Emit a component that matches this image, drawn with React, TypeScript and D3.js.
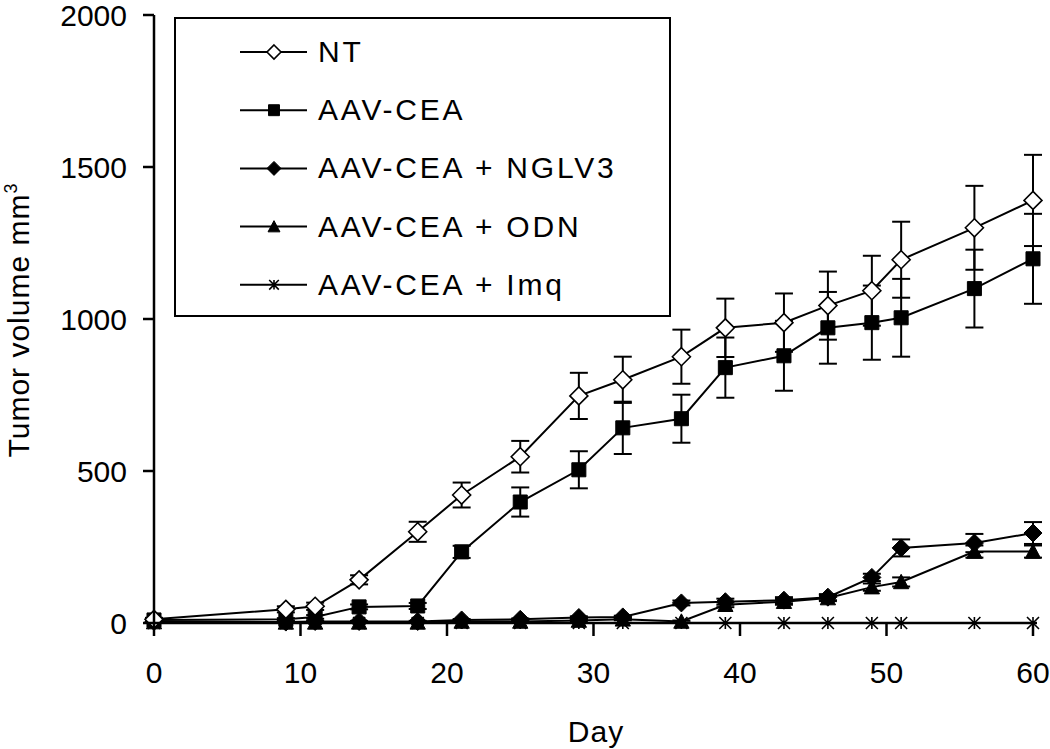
import React from 'react';
import * as d3 from 'd3';

// days shared by every group
const days = [0, 9, 11, 14, 18, 21, 25, 29, 32, 36, 39, 43, 46, 49, 51, 56, 60];

const ntVals = [12, 45, 55, 142, 300, 421, 547, 747, 800, 876, 971, 988, 1044, 1093, 1195, 1300, 1390];
const ntErr = [5, 10, 12, 15, 33, 41, 52, 76, 76, 89, 96, 96, 112, 115, 125, 138, 150];

const aavVals = [10, 12, 20, 53, 56, 234, 398, 504, 642, 672, 840, 879, 971, 988, 1004, 1100, 1198];
const aavErr = [3, 4, 6, 8, 10, 20, 48, 61, 86, 79, 99, 115, 118, 122, 128, 128, 148];

const nglvVals = [5, 3, 5, 5, 5, 10, 12, 18, 20, 66, 70, 75, 85, 150, 247, 263, 296];
const nglvErr = [2, 2, 2, 2, 2, 3, 3, 4, 4, 8, 10, 10, 10, 12, 28, 30, 36];

const odnVals = [3, 2, 2, 2, 2, 5, 5, 8, 12, 5, 60, 70, 82, 118, 135, 235, 235];
const odnErr = [1, 1, 1, 1, 1, 2, 2, 3, 3, 3, 8, 10, 10, 12, 15, 20, 20];

const imqVals = [0, 0, 0, 0, 0, 0, 0, 0, 0, 0, 0, 0, 0, 0, 0, 0, 0];

const xTicks = [0, 10, 20, 30, 40, 50, 60];
const yTicks = [0, 500, 1000, 1500, 2000];

type Shape = 'openDiamond' | 'square' | 'diamond' | 'triangle' | 'star';

const series: { name: string; vals: number[]; err: number[] | null; shape: Shape }[] = [
  { name: 'NT', vals: ntVals, err: ntErr, shape: 'openDiamond' },
  { name: 'AAV-CEA', vals: aavVals, err: aavErr, shape: 'square' },
  { name: 'AAV-CEA + NGLV3', vals: nglvVals, err: nglvErr, shape: 'diamond' },
  { name: 'AAV-CEA + ODN', vals: odnVals, err: odnErr, shape: 'triangle' },
  { name: 'AAV-CEA + Imq', vals: imqVals, err: null, shape: 'star' },
];

const FONT = '"Liberation Sans", Arial, sans-serif';

// marker path centred on 0,0
const markerPath = (shape: Shape, s: number) => {
  switch (shape) {
    case 'openDiamond':
    case 'diamond':
      return `M0,${-s}L${s},0L0,${s}L${-s},0Z`;
    case 'square':
      return `M${-s * 0.78},${-s * 0.78}h${s * 1.56}v${s * 1.56}h${-s * 1.56}Z`;
    case 'triangle':
      return `M0,${-s * 0.85}L${s * 0.85},${s * 0.75}L${-s * 0.85},${s * 0.75}Z`;
    case 'star':
      return `M${-s * 0.6},${-s * 0.6}L${s * 0.6},${s * 0.6}M${s * 0.6},${-s * 0.6}L${-s * 0.6},${s * 0.6}M0,${-s * 0.6}V${s * 0.6}`;
  }
};

const Marker = ({ shape, x, y, s }: { shape: Shape; x: number; y: number; s: number }) => {
  const d = markerPath(shape, s);
  if (shape === 'star') {
    return <path d={d} transform={`translate(${x},${y})`} fill="none" stroke="#000" strokeWidth={1.6} />;
  }
  const open = shape === 'openDiamond';
  return (
    <path
      d={d}
      transform={`translate(${x},${y})`}
      fill={open ? '#fff' : '#000'}
      stroke="#000"
      strokeWidth={open ? 1.6 : 1}
    />
  );
};

const App = () => {
  const width = 1050;
  const height = 749;

  const x = d3.scaleLinear().domain([0, 60]).range([154, 1033]);
  const y = d3.scaleLinear().domain([0, 2000]).range([623, 15]);

  const line = d3
    .line<number>()
    .x((_, i) => x(days[i]))
    .y(d => y(d));

  const legendX = 175;
  const legendY = 18;
  const legendW = 495;
  const legendH = 298;

  return (
    <svg
      width={width}
      height={height}
      style={{ position: 'absolute', left: 0, top: 0, background: '#fff' }}
      fontFamily={FONT}
    >
      <rect x={0} y={0} width={width} height={height} fill="#fff" />

      {/* error bars */}
      {series.map(s =>
        s.err
          ? s.vals.map((v, i) => {
              const cx = x(days[i]);
              const top = y(v + s.err![i]);
              const bot = y(v - s.err![i]);
              return (
                <g key={`${s.name}-e-${i}`} stroke="#000" strokeWidth={2}>
                  <line x1={cx} x2={cx} y1={top} y2={bot} />
                  <line x1={cx - 9} x2={cx + 9} y1={top} y2={top} />
                  <line x1={cx - 9} x2={cx + 9} y1={bot} y2={bot} />
                </g>
              );
            })
          : null
      )}

      {/* lines */}
      {series.map(s => (
        <path key={`${s.name}-l`} d={line(s.vals) || ''} fill="none" stroke="#000" strokeWidth={2} />
      ))}

      {/* markers */}
      {series
        .slice()
        .reverse()
        .map(s =>
          s.vals.map((v, i) => (
            <Marker key={`${s.name}-m-${i}`} shape={s.shape} x={x(days[i])} y={y(v)} s={s.shape === 'star' ? 10 : 9} />
          ))
        )}

      {/* axes */}
      <line x1={x(0)} x2={x(0)} y1={y(2000)} y2={y(0)} stroke="#000" strokeWidth={2.5} />
      <line x1={x(0)} x2={1037} y1={y(0)} y2={y(0)} stroke="#000" strokeWidth={2.5} />

      {yTicks.map(t => (
        <g key={`yt-${t}`}>
          <line x1={x(0) - 11} x2={x(0)} y1={y(t)} y2={y(t)} stroke="#000" strokeWidth={2.5} />
          <text x={127} y={y(t) + 11} textAnchor="end" fontSize={30} fill="#000">
            {t}
          </text>
        </g>
      ))}

      {xTicks.map(t => (
        <g key={`xt-${t}`}>
          <line x1={x(t)} x2={x(t)} y1={y(0)} y2={y(0) + 13} stroke="#000" strokeWidth={2.5} />
          <text x={x(t)} y={683} textAnchor="middle" fontSize={30} fill="#000">
            {t}
          </text>
        </g>
      ))}

      <text x={596} y={742} textAnchor="middle" fontSize={30} fill="#000" letterSpacing={1}>
        Day
      </text>

      <text
        transform="translate(29,320) rotate(-90)"
        textAnchor="middle"
        fontSize={30}
        fill="#000"
        letterSpacing={1}
      >
        Tumor volume mm
        <tspan fontSize={18} dy={-12}>
          3
        </tspan>
      </text>

      {/* legend */}
      <rect x={legendX} y={legendY} width={legendW} height={legendH} fill="#fff" stroke="#000" strokeWidth={2} />
      {series.map((s, i) => {
        const ry = 52 + i * 58.2;
        return (
          <g key={`lg-${s.name}`}>
            <line x1={240} x2={307} y1={ry} y2={ry} stroke="#000" strokeWidth={2} />
            <Marker shape={s.shape} x={274} y={ry} s={s.shape === 'star' ? 8 : 7} />
            <text x={318} y={ry + 10} fontSize={30} fill="#000" letterSpacing={2.8}>
              {s.name}
            </text>
          </g>
        );
      })}
    </svg>
  );
};

export default App;
